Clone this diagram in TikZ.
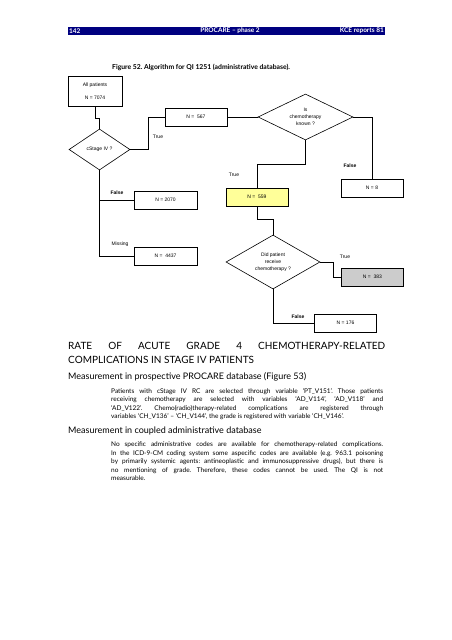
\documentclass[tikz,border=0pt]{standalone}
\usepackage{fontspec}
\setmainfont{Lato}
\newfontfamily\chartfont{Liberation Sans}
\usetikzlibrary{shapes.geometric}
\usetikzlibrary{shadows}
\hyphenpenalty=10000
\frenchspacing

\definecolor{kcenavy}{RGB}{0,0,128}
\definecolor{boxyellow}{RGB}{255,255,153}
\definecolor{boxgray}{RGB}{204,204,204}

\tikzset{
  countbox/.style={draw, line width=0.6pt, fill=white, inner sep=0pt,
    minimum width=62pt, minimum height=18pt,
    font=\chartfont\fontsize{5}{6}\selectfont,
    drop shadow={shadow xshift=0.8pt, shadow yshift=-0.8pt, fill=black!40, opacity=1}},
  decision/.style={diamond, draw, line width=0.6pt, inner sep=0pt, aspect=2,
    align=center, font=\chartfont\fontsize{5}{7}\selectfont},
  link/.style={draw, line width=0.6pt},
  lbl/.style={inner sep=0pt, font=\chartfont\fontsize{5}{6}\selectfont},
  blbl/.style={lbl, font=\chartfont\fontsize{5}{6}\selectfont\bfseries},
  headtext/.style={inner sep=0pt, text=white, font=\fontsize{6.5}{7}\selectfont\bfseries},
  bodytext/.style={anchor=north west, inner sep=0pt, text width=272pt, align=justify,
    font=\fontsize{6.5}{8.5}\selectfont},
  subhead/.style={anchor=west, inner sep=0pt, font=\fontsize{9}{10}\selectfont}
}

\begin{document}
\begin{tikzpicture}[x=1pt, y=-1pt]
\useasboundingbox (0,0) rectangle (452,640);
\fill[white] (0,0) rectangle (452,640);

% running header
\fill[kcenavy] (68,27) rectangle (385,35);
\node[headtext, anchor=west] (pagenum) at (69,31) {142};
\node[headtext] (runtitle) at (230,31) {PROCARE -- phase 2};
\node[headtext, anchor=east] (series) at (384,31) {KCE reports 81};

\node[anchor=west, inner sep=0pt, font=\fontsize{6.8}{8}\selectfont\bfseries] (caption) at (112,67)
    {Figure 52. Algorithm for QI 1251 (administrative database).};

% flowchart
\node[countbox, minimum width=54pt, minimum height=30pt, align=center] (allp) at (95,91)
    {All patients\\[7pt]N = 7074};
\node[decision, minimum width=61pt, minimum height=41pt] (stage) at (99.5,149.5) {cStage IV ?};
\node[countbox] (n567) at (196,117) {N =\ \ 567};
\node[decision, minimum width=95pt, minimum height=46pt] (chemok) at (305.5,117)
    {Is\\chemotherapy\\known ?};
\node[countbox] (n8) at (372,188) {N = 8};
\node[countbox, fill=boxyellow] (n559) at (257,197) {N =\ \ 559};
\node[countbox, minimum width=63pt] (n2070) at (165.5,200) {N = 2070};
\node[countbox, minimum width=63pt] (n4437) at (165.5,256) {N =\ \ 4437};
\node[decision, minimum width=94pt, minimum height=54pt] (recv) at (273,262)
    {Did patient\\receive\\chemotherapy ?};
\node[countbox, fill=boxgray] (n383) at (372.5,277) {N =\ \ 383};
\node[countbox] (n176) at (345.5,323) {N = 176};

\draw[link] (allp.south) -- ++(0,12) -| (stage.north);
\draw[link] (stage.east) -- ++(18,0) |- (n567.west);
\draw[link] (n567.east) -- (chemok.west);
\draw[link] (chemok.east) -| (n8.north);
\draw[link] (chemok.south) -- ++(0,24) -| (n559.north);
\draw[link] (n559.south) -- ++(0,13) -| (recv.north);
\draw[link] (recv.east) -- ++(13,0) |- (n383.west);
\draw[link] (recv.south) |- (n176.west);
\draw[link] (stage.south) |- (n2070.west);
\draw[link] (stage.south) |- (n4437.west);

\node[lbl] (t_stage) at (158,137) {True};
\node[blbl] (f_stage) at (117,193) {False};
\node[lbl] (m_stage) at (120,244) {Missing};
\node[lbl] (t_chemok) at (234,175) {True};
\node[blbl] (f_chemok) at (350,166) {False};
\node[lbl] (t_recv) at (345,257) {True};
\node[blbl] (f_recv) at (298,317) {False};

% text below the figure
\node[anchor=north west, inner sep=0pt, text width=317pt, align=justify,
      font=\fontsize{10}{14.5}\selectfont] (sectitle) at (68,342)
    {RATE OF ACUTE GRADE 4 CHEMOTHERAPY-RELATED\linebreak COMPLICATIONS IN STAGE IV PATIENTS};
\node[subhead] (sub_pro) at (68,377) {Measurement in prospective PROCARE database (Figure 53)};
\node[bodytext] (par_pro) at (111,388)
    {Patients with cStage IV RC are selected through variable ‘PT\_V151’. Those patients\linebreak
     receiving chemotherapy are selected with variables ‘AD\_V114’, ‘AD\_V118’ and\linebreak
     ‘AD\_V122’. Chemo(radio)therapy-related complications are registered through\linebreak
     variables ‘CH\_V136’ – ‘CH\_V144’, the grade is registered with variable ‘CH\_V146’.};
\node[subhead] (sub_adm) at (68,431) {Measurement in coupled administrative database};
\node[bodytext] (par_adm) at (111,442)
    {No specific administrative codes are available for chemotherapy-related complications.\linebreak
     In the ICD-9-CM coding system some aspecific codes are available (e.g. 963.1 poisoning\linebreak
     by primarily systemic agents: antineoplastic and immunosuppressive drugs), but there is\linebreak
     no mentioning of grade. Therefore, these codes cannot be used. The QI is not\linebreak
     measurable.};
\end{tikzpicture}
\end{document}
